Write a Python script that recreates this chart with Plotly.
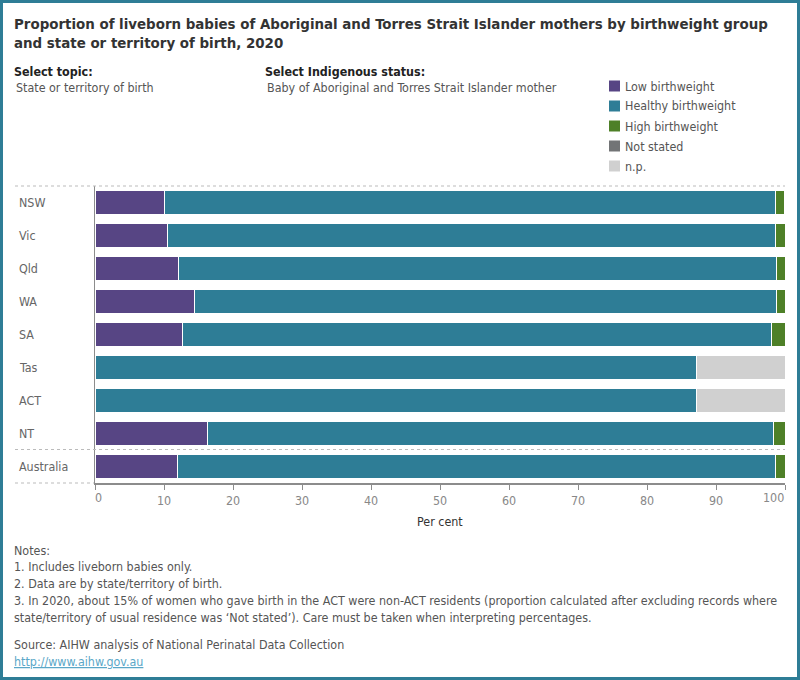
import plotly.graph_objects as go

categories = ["NSW", "Vic", "Qld", "WA", "SA", "Tas", "ACT", "NT", "Australia"]
low_bw = [10.0, 10.5, 12.1, 14.4, 12.7, None, None, 16.3, 11.9]
healthy_bw = [88.6, 88.1, 86.7, 84.4, 85.3, 87.2, 87.2, 82.1, 86.7]
high_bw = [1.3, 1.4, 1.2, 1.2, 2.0, None, None, 1.6, 1.4]
not_stated = [None] * 9
n_p = [None, None, None, None, None, 12.8, 12.8, None, None]

series_names = ["Low birthweight", "Healthy birthweight", "High birthweight", "Not stated", "n.p."]
series_values = [low_bw, healthy_bw, high_bw, not_stated, n_p]
series_colors = ["#574584", "#2e7d96", "#4e8028", "#727476", "#d0d0d0"]
x_ticks = [0, 10, 20, 30, 40, 50, 60, 70, 80, 90, 100]

W, H = 800, 680
L, R, T, B = 95, 785, 186, 483
FONT = "DejaVu Sans Condensed, DejaVu Sans, sans-serif"
FS = 12.4
PAD = 3  # annotation inner padding offset


def px(x):
    return (x - L) / (R - L)


def py(y):
    return (B - y) / (B - T)


fig = go.Figure()
for name, vals, col in zip(series_names, series_values, series_colors):
    fig.add_trace(go.Bar(
        y=categories, x=vals, name=name, orientation="h",
        marker=dict(color=col, line=dict(color="white", width=1)),
        showlegend=False,
    ))

anns = []
shapes = []


def txt(x, y, text, size=FS, color="#555555", anchor="left"):
    dx = -PAD if anchor == "left" else PAD
    anns.append(dict(x=px(x + dx), y=py(y), xref="paper", yref="paper", xanchor=anchor, yanchor="middle",
                     text=text, showarrow=False, align="left",
                     font=dict(size=size, color=color, family=FONT)))


# title and header texts
txt(15, 33, "<b>Proportion of liveborn babies of Aboriginal and Torres Strait Islander mothers by birthweight group<br>and state or territory of birth, 2020</b>",
    size=14.9, color="#333333")
txt(15, 71, "<b>Select topic:</b>", color="#222222")
txt(17, 88, "State or territory of birth")
txt(266, 71, "<b>Select Indigenous status:</b>", color="#222222")
txt(268, 88, "Baby of Aboriginal and Torres Strait Islander mother")

# custom legend
for i, (name, col) in enumerate(zip(series_names, series_colors)):
    yc = 86 + 20 * i
    shapes.append(dict(type="rect", xref="paper", yref="paper", x0=px(609), x1=px(620),
                       y0=py(yc + 5.5), y1=py(yc - 5.5), fillcolor=col, line=dict(width=0)))
    txt(626, yc, name)

# category labels, left aligned
for c in categories:
    anns.append(dict(x=px(20 - PAD), y=c, xref="paper", yref="y", xanchor="left", yanchor="middle",
                     text=c, showarrow=False, font=dict(size=FS, color="#666666", family=FONT)))

# end tick labels, nudged inward like the reference
txt(96, 497, str(x_ticks[0]), color="#888888")
txt(783, 497, str(x_ticks[-1]), color="#888888", anchor="right")
tick_text = [""] + [str(v) for v in x_ticks[1:-1]] + [""]

# dotted separators
dot = dict(color="#bbbbbb", width=1, dash="dot")
shapes.append(dict(type="line", xref="paper", yref="paper", x0=px(15), x1=px(785), y0=py(186), y1=py(186), line=dot))
shapes.append(dict(type="line", xref="paper", yref="paper", x0=px(15), x1=px(785), y0=py(449.5), y1=py(449.5), line=dot))
shapes.append(dict(type="line", xref="paper", yref="paper", x0=px(15), x1=px(94), y0=py(483), y1=py(483), line=dot))

# x axis title
anns.append(dict(x=0.5, y=py(521), xref="paper", yref="paper", xanchor="center", yanchor="middle",
                 text="Per cent", showarrow=False, font=dict(size=FS, color="#333333", family=FONT)))

# notes
notes = [
    "Notes:",
    "1. Includes liveborn babies only.",
    "2. Data are by state/territory of birth.",
    "3. In 2020, about 15% of women who gave birth in the ACT were non-ACT residents (proportion calculated after excluding records where",
    "state/territory of usual residence was \u2018Not stated\u2019). Care must be taken when interpreting percentages.",
]
note_y = [550, 566, 583, 600, 617]
for t, yy in zip(notes, note_y):
    txt(15, yy, t)
txt(15, 644, "Source: AIHW analysis of National Perinatal Data Collection")
txt(15, 661, "<u>http://www.aihw.gov.au</u>", color="#5aa7c8")

# outer frame
shapes.append(dict(type="rect", xref="paper", yref="paper", x0=px(1.5), x1=px(798.5), y0=py(678.5), y1=py(1.5),
                   line=dict(color="#2e7d96", width=3), fillcolor="rgba(0,0,0,0)", layer="above"))

fig.update_layout(
    width=W, height=H,
    margin=dict(l=L, r=W - R, t=T, b=H - B, pad=0, autoexpand=False),
    barmode="stack", bargap=0.27,
    plot_bgcolor="white", paper_bgcolor="white",
    font=dict(family=FONT, size=FS, color="#888888"),
    xaxis=dict(range=[0, 100], tickvals=x_ticks, ticktext=tick_text, showgrid=False, zeroline=False,
               automargin=False,
               showline=True, linecolor="#8c8c8c", linewidth=2, ticks="outside", ticklen=5,
               tickcolor="#8c8c8c", tickfont=dict(size=FS, color="#888888", family=FONT)),
    yaxis=dict(categoryorder="array", categoryarray=categories, autorange="reversed", automargin=False,
               showticklabels=False, showgrid=False, zeroline=False,
               showline=True, linecolor="#8c8c8c", linewidth=1),
    annotations=anns, shapes=shapes,
)

fig.write_html("out.html")
